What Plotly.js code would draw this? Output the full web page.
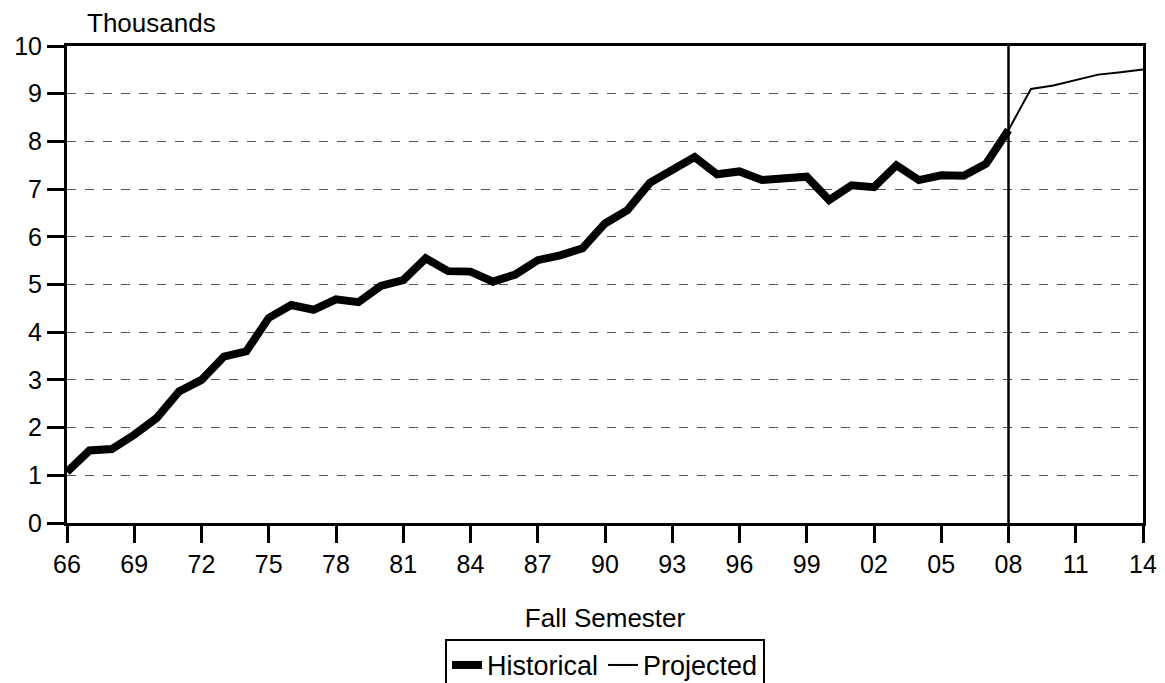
<!DOCTYPE html>
<html>
<head>
<meta charset="utf-8">
<script src="https://cdn.plot.ly/plotly-3.0.1.min.js"></script>
<style>html,body{margin:0;padding:0;background:#fff;}#chart{width:1165px;height:683px;}</style>
</head>
<body>
<div id="chart"></div>
<script>
const histYears = [1966,1967,1968,1969,1970,1971,1972,1973,1974,1975,1976,1977,1978,1979,1980,1981,1982,1983,1984,1985,1986,1987,1988,1989,1990,1991,1992,1993,1994,1995,1996,1997,1998,1999,2000,2001,2002,2003,2004,2005,2006,2007,2008];
const histValues = [1.07,1.52,1.55,1.85,2.2,2.76,3.0,3.49,3.6,4.3,4.57,4.47,4.69,4.63,4.97,5.09,5.55,5.28,5.27,5.06,5.21,5.51,5.61,5.76,6.28,6.56,7.13,7.4,7.67,7.31,7.37,7.19,7.24,7.26,6.77,7.08,7.04,7.5,7.19,7.29,7.28,7.53,8.24];
const projYears = [2008,2009,2010,2011,2012,2013,2014];
const projValues = [8.24,9.1,9.17,9.28,9.4,9.45,9.51];
const tickYears = [1966,1969,1972,1975,1978,1981,1984,1987,1990,1993,1996,1999,2002,2005,2008,2011,2014];
const tickLabels = ["66","69","72","75","78","81","84","87","90","93","96","99","02","05","08","11","14"];
const yTicks = [0,1,2,3,4,5,6,7,8,9,10];
const divideYear = 2008;

const font = "Liberation Sans, Arial, sans-serif";
const traces = [
  {x: histYears, y: histValues, type: 'scatter', mode: 'lines', name: 'Historical',
   line: {color: '#000', width: 8}},
  {x: projYears, y: projValues, type: 'scatter', mode: 'lines', name: 'Projected',
   line: {color: '#000', width: 2}}
];
const layout = {
  width: 1165, height: 683,
  margin: {l: 67, r: 22, t: 46, b: 160, autoexpand: false},
  paper_bgcolor: '#fff', plot_bgcolor: '#fff',
  font: {family: font, color: '#000', size: 25},
  showlegend: true,
  legend: {orientation: 'h', x: 0.5, xanchor: 'center', y: -0.243, yanchor: 'top',
    bordercolor: '#000', borderwidth: 2, font: {size: 27, family: font},
    itemwidth: 30, tracegroupgap: 0},
  xaxis: {range: [1966, 2014], tickmode: 'array', tickvals: tickYears, ticktext: tickLabels,
    showline: true, mirror: true, linecolor: '#000', linewidth: 3,
    ticks: 'outside', ticklen: 17, tickwidth: 3, tickcolor: '#000',
    showgrid: false, zeroline: false, tickfont: {size: 25},
    title: {text: 'Fall Semester', font: {size: 26}, standoff: 32}},
  yaxis: {range: [0, 10], tickmode: 'array', tickvals: yTicks,
    showline: true, mirror: true, linecolor: '#000', linewidth: 3,
    ticks: 'outside', ticklen: 17, tickwidth: 3, tickcolor: '#000',
    showgrid: true, gridcolor: '#555', gridwidth: 1, griddash: 'dash',
    zeroline: false, tickfont: {size: 25}},
  shapes: [{type: 'line', xref: 'x', yref: 'y', x0: divideYear, x1: divideYear, y0: 0, y1: 10,
    line: {color: '#000', width: 2.5}}],
  annotations: [{text: 'Thousands', xref: 'paper', yref: 'paper', x: 0.0165, y: 1.048, yanchor: 'middle',
    xanchor: 'left', showarrow: false, font: {size: 26, family: font}}]
};
Plotly.newPlot('chart', traces, layout, {displayModeBar: false, staticPlot: true});
</script>
</body>
</html>
